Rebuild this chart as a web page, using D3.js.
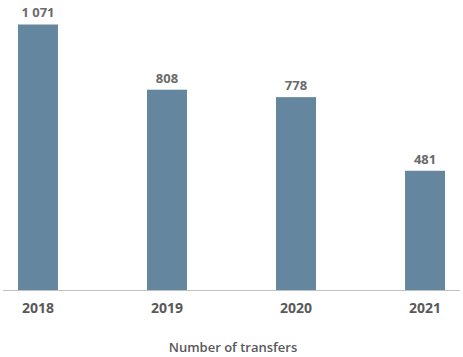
<!DOCTYPE html>
<html><head><meta charset="utf-8">
<script src="https://cdn.jsdelivr.net/npm/d3@7"></script>
<style>body{margin:0;background:#fff}svg{display:block}</style>
</head><body><div id="chart"></div>
<script>
const categories = ["2018", "2019", "2020", "2021"];
const values = [1071, 808, 778, 481];
const valueLabels = ["1 071", "808", "778", "481"];
const title = "Number of transfers";

const W = 463, H = 357;
const svg = d3.select("#chart").append("svg").attr("width", W).attr("height", H);
const font = "'Open Sans', 'Noto Sans', sans-serif";

const x = d3.scaleBand().domain(categories).range([3, 460]).paddingInner(0.69).paddingOuter(0.116);
const y = d3.scaleLinear().domain([0, 1075]).range([290, 23.5]);

svg.selectAll("rect.bar").data(values).enter().append("rect")
  .attr("class", "bar")
  .attr("x", (d, i) => x(categories[i]))
  .attr("y", d => y(d))
  .attr("width", x.bandwidth())
  .attr("height", d => y(0) - y(d))
  .attr("fill", "#64879f");

svg.selectAll("text.val").data(values).enter().append("text")
  .attr("class", "val")
  .attr("x", (d, i) => x(categories[i]) + x.bandwidth() / 2)
  .attr("y", d => y(d) - 7)
  .attr("text-anchor", "middle")
  .attr("font-family", font).attr("font-weight", 700).attr("font-size", 13)
  .attr("fill", "#6b6b6b")
  .text((d, i) => valueLabels[i]);

const axis = svg.append("g").attr("transform", "translate(0,290)")
  .call(d3.axisBottom(x).tickSize(0).tickPadding(13));
axis.select(".domain").attr("stroke", "#c0c0c0").attr("d", "M3,0.5H460");
axis.selectAll("text").attr("font-family", font).attr("font-weight", 700)
  .attr("font-size", 14).attr("fill", "#595959");

svg.append("text").attr("x", 233).attr("y", 352)
  .attr("text-anchor", "middle")
  .attr("font-family", font).attr("font-weight", 600).attr("font-size", 13)
  .attr("fill", "#595959")
  .text(title);
</script></body></html>
